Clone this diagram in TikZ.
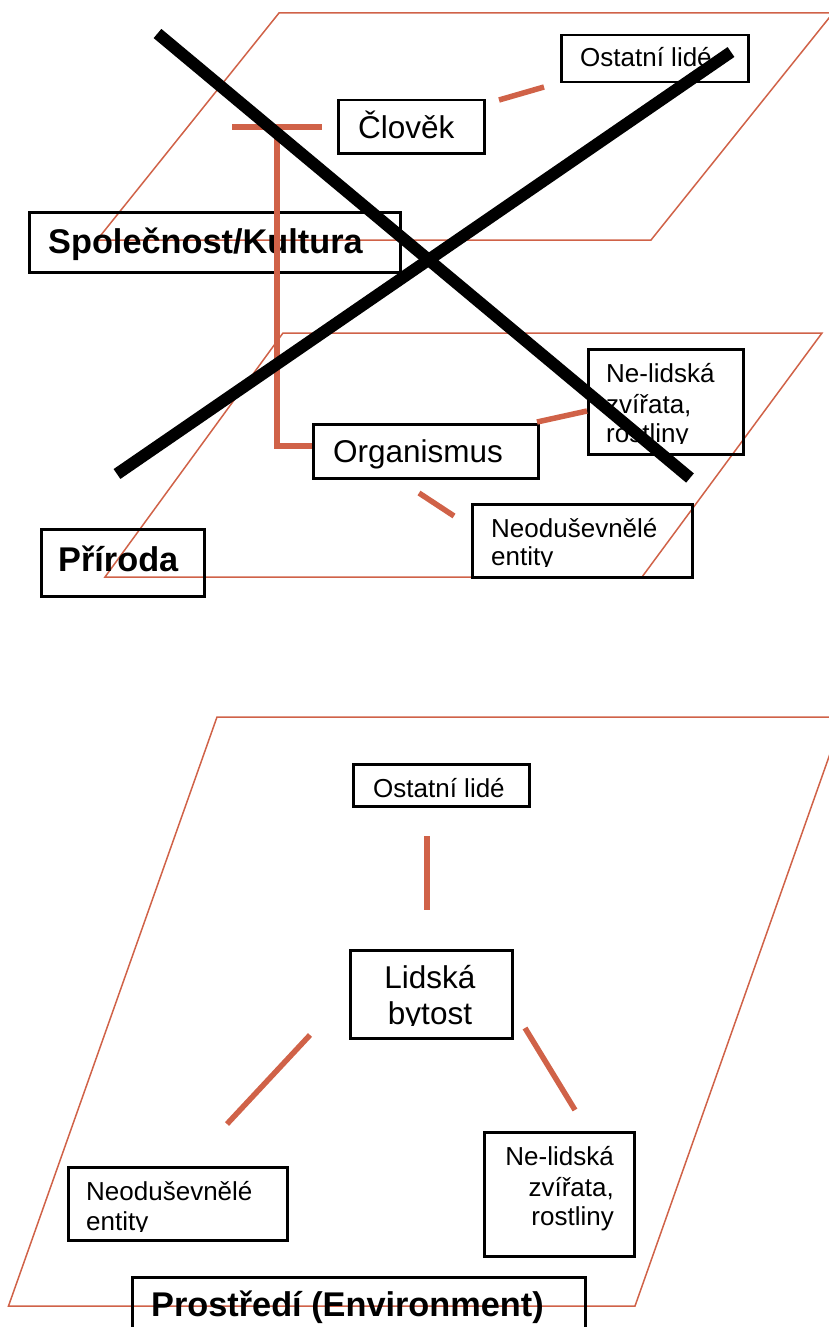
\documentclass[tikz,border=0pt]{standalone}
\usepackage{fontspec}
\setmainfont{Liberation Sans}
\definecolor{orng}{RGB}{208,98,72}
\begin{document}
\begin{tikzpicture}[x=1pt,y=-1pt,
  para/.style={draw=orng,line width=1.5pt},
  conn/.style={draw=orng,line width=5.5pt},
  cross/.style={draw=black,line width=12pt},
  box/.style={draw=black,line width=2.5pt,inner sep=0pt,anchor=north west},
  big/.style={font=\fontsize{31.5}{36}\selectfont,anchor=base west,inner sep=0pt},
  small/.style={font=\fontsize{26}{30}\selectfont,anchor=base west,inner sep=0pt},
  smallr/.style={font=\fontsize{26}{30}\selectfont,anchor=base east,inner sep=0pt},
  bigc/.style={font=\fontsize{31.5}{36}\selectfont,anchor=base,inner sep=0pt},
  boldt/.style={font=\fontsize{34.3}{40}\selectfont\bfseries,anchor=base west,inner sep=0pt}]
\path[use as bounding box] (0,0) rectangle (829,1327);
\clip (0,0) rectangle (829,1327);

% planes
\draw[para] (279,13) -- (833,13) -- (651,240) -- (97,240) -- cycle;
\draw[para] (283,333) -- (822,333) -- (642,577) -- (105,577) -- cycle;
\draw[para] (217,717) -- (843,717) -- (635,1306) -- (8.5,1306) -- cycle;

% ---------- top diagram ----------
\node[box,minimum width=146pt,minimum height=53pt] (clovek) at (337,99) {};
\node[big] (tclovek) at (358,139) {Člověk};

\node[box,minimum width=187pt,minimum height=47pt] (ost1) at (560,34) {};
\node[small] (tost1) at (580,67) {Ostatní lidé};

\node[box,minimum width=371pt,minimum height=60pt] (spol) at (28,211) {};
\node[boldt] (tspol) at (48,253) {Společnost/Kultura};

\node[box,minimum width=225pt,minimum height=54pt] (org) at (312,423) {};
\node[big] (torg) at (333,462) {Organismus};

\node[box,minimum width=155pt,minimum height=105pt] (nel1) at (587,348) {};
\begin{scope}
\clip (587,348) rectangle (742,443);
\node[small] (tnel1a) at (606,382) {Ne-lidská};
\node[small] (tnel1b) at (606,413) {zvířata,};
\node[small] (tnel1c) at (606,442) {rostliny};
\end{scope}

\node[box,minimum width=220pt,minimum height=73pt] (neo1) at (471,503) {};
\begin{scope}
\clip (471,503) rectangle (692,566);
\node[small] (tneo1a) at (491,537) {Neoduševnělé};
\node[small] (tneo1b) at (491,565) {entity};
\end{scope}

\node[box,minimum width=163pt,minimum height=67pt] (prir) at (40,528) {};
\node[boldt] (tprir) at (58,571) {Příroda};

% orange connectors (top)
\coordinate (k1) at (232,127);
\coordinate (k2) at (322,127);
\coordinate (k3) at (277,127);
\coordinate (k4) at (277,446);
\draw[conn] (k1) -- (k2);
\draw[conn] (k3) -- (k4) -- (org.west |- k4);
\coordinate (c1a) at (499,100);
\coordinate (c1b) at (544,87);
\draw[conn] (c1a) -- (c1b);
\coordinate (c2a) at (537,422);
\coordinate (c2b) at (587,411);
\draw[conn] (c2a) -- (c2b);
\coordinate (c3a) at (419,493);
\coordinate (c3b) at (454,516);
\draw[conn] (c3a) -- (c3b);

% the big cross
\coordinate (xa1) at (157.5,33.5);
\coordinate (xa2) at (690,478);
\coordinate (xb1) at (731,52);
\coordinate (xb2) at (117,474);
\draw[cross] (xa1) -- (xa2);
\draw[cross] (xb1) -- (xb2);

% ---------- bottom diagram ----------
\node[box,minimum width=176pt,minimum height=42pt] (ost2) at (352,763) {};
\begin{scope}
\clip (352,763) rectangle (528,798);
\node[small] (tost2) at (373,797) {Ostatní lidé};
\end{scope}

\node[box,minimum width=162pt,minimum height=88pt] (lid) at (349,949) {};
\begin{scope}
\clip (349,949) rectangle (511,1025);
\node[bigc] (tlida) at (430,988) {Lidská};
\node[bigc] (tlidb) at (430,1024) {bytost};
\end{scope}

\node[box,minimum width=219pt,minimum height=73pt] (neo2) at (67,1166) {};
\begin{scope}
\clip (67,1166) rectangle (286,1231);
\node[small] (tneo2a) at (86,1200) {Neoduševnělé};
\node[small] (tneo2b) at (86,1230) {entity};
\end{scope}

\node[box,minimum width=150pt,minimum height=124pt] (nel2) at (483,1131) {};
\node[smallr] (tnel2a) at (614,1165) {Ne-lidská};
\node[smallr] (tnel2b) at (614,1196) {zvířata,};
\node[smallr] (tnel2c) at (614,1225) {rostliny};

\node[box,minimum width=453pt,minimum height=70pt] (prost) at (131,1276) {};
\node[boldt] (tprost) at (151,1316) {Prostředí (Environment)};

% orange connectors (bottom)
\coordinate (d1a) at (427,836);
\coordinate (d1b) at (427,910);
\draw[conn] (d1a) -- (d1b);
\coordinate (d2a) at (310,1035);
\coordinate (d2b) at (227,1124);
\draw[conn] (d2a) -- (d2b);
\coordinate (d3a) at (525,1028);
\coordinate (d3b) at (575,1110);
\draw[conn] (d3a) -- (d3b);
\end{tikzpicture}
\end{document}
